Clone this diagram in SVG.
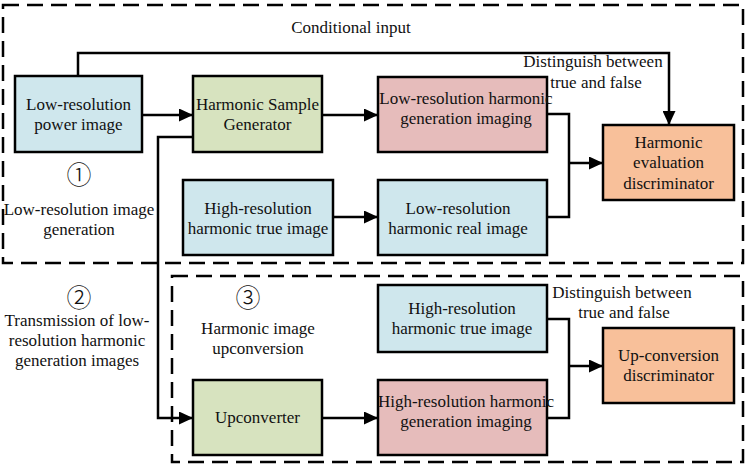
<svg xmlns="http://www.w3.org/2000/svg" width="750" height="468" viewBox="0 0 750 468">
<defs>
<marker id="ah" viewBox="0 0 14 13" refX="14" refY="6.5" markerWidth="14" markerHeight="13" markerUnits="userSpaceOnUse" orient="auto">
<path d="M0,0 L14,6.5 L0,13 Z" fill="#000"/>
</marker>
<style>
text{font-family:"Liberation Serif","Times New Roman",serif;font-size:17px;fill:#111;text-anchor:middle}
.c{font-family:"Noto Sans CJK SC","DejaVu Sans",sans-serif;font-size:25px;font-weight:300}
.n{stroke:#000;stroke-width:2.5}
.blue{fill:#cfe7ed}.green{fill:#d7e3bf}.pink{fill:#e6bcbb}.orange{fill:#f8c09a}
.dash{fill:none;stroke:#000;stroke-width:2.5;stroke-dasharray:16 8}
.w{fill:none;stroke:#000;stroke-width:2.5}
.a{marker-end:url(#ah)}
</style>
</defs>
<rect width="750" height="468" fill="#fff"/>
<g id="regions">
<rect class="dash" x="3" y="5" width="740" height="258"/>
<rect class="dash" x="172" y="276" width="571" height="186"/>
</g>
<g id="connectors">
<polyline class="w a" points="78,76 78,53 669,53 669,125"/>
<line class="w a" x1="142" y1="115" x2="193" y2="115"/>
<line class="w a" x1="322" y1="115" x2="378" y2="115"/>
<polyline class="w a" points="193,137 158,137 158,418 193,418"/>
<polyline class="w" points="547,114 569,114 569,217 547,217"/>
<line class="w a" x1="569" y1="163" x2="603" y2="163"/>
<line class="w a" x1="333" y1="217" x2="378" y2="217"/>
<polyline class="w" points="547,319 569,319 569,418 547,418"/>
<line class="w a" x1="569" y1="366" x2="603" y2="366"/>
<line class="w a" x1="322" y1="418" x2="378" y2="418"/>
</g>
<g id="lr-power">
<rect class="n blue" x="15" y="76" width="127" height="76"/>
<text x="78.5" y="110">Low-resolution</text>
<text x="78.5" y="130">power image</text>
</g>
<g id="hsg">
<rect class="n green" x="193" y="76" width="129" height="76"/>
<text x="257.5" y="110">Harmonic Sample</text>
<text x="257.5" y="130">Generator</text>
</g>
<g id="lr-gen">
<rect class="n pink" x="378" y="77" width="169" height="75"/>
<text x="466" y="104">Low-resolution harmonic</text>
<text x="466" y="124">generation imaging</text>
</g>
<g id="h-disc">
<rect class="n orange" x="603" y="125" width="131" height="75"/>
<text x="668.5" y="147.5">Harmonic</text>
<text x="668.5" y="168">evaluation</text>
<text x="668.5" y="188.5">discriminator</text>
</g>
<g id="hr-true-1">
<rect class="n blue" x="183" y="180" width="150" height="75"/>
<text x="258" y="214">High-resolution</text>
<text x="258" y="234">harmonic true image</text>
</g>
<g id="lr-real">
<rect class="n blue" x="378" y="180" width="169" height="75"/>
<text x="458" y="214">Low-resolution</text>
<text x="458" y="234">harmonic real image</text>
</g>
<g id="hr-true-2">
<rect class="n blue" x="378" y="285" width="169" height="67"/>
<text x="462" y="314">High-resolution</text>
<text x="462" y="334">harmonic true image</text>
</g>
<g id="up-disc">
<rect class="n orange" x="603" y="328" width="131" height="75"/>
<text x="668.5" y="361">Up-conversion</text>
<text x="668.5" y="381">discriminator</text>
</g>
<g id="upconverter">
<rect class="n green" x="193" y="380" width="129" height="75"/>
<text x="257.5" y="423">Upconverter</text>
</g>
<g id="hr-gen">
<rect class="n pink" x="378" y="380" width="169" height="75"/>
<text x="466" y="407">High-resolution harmonic</text>
<text x="466" y="427">generation imaging</text>
</g>
<g id="labels">
<text x="351" y="33">Conditional input</text>
<text x="593" y="67">Distinguish between</text>
<text x="596" y="88">true and false</text>
<text class="c" x="79" y="184">①</text>
<text x="79" y="215">Low-resolution image</text>
<text x="79" y="235">generation</text>
<text class="c" x="79" y="307">②</text>
<text x="77" y="326">Transmission of low-</text>
<text x="77" y="346">resolution harmonic</text>
<text x="77" y="366">generation images</text>
<text class="c" x="248" y="307">③</text>
<text x="258" y="334">Harmonic image</text>
<text x="258" y="354">upconversion</text>
<text x="622" y="298">Distinguish between</text>
<text x="624" y="318">true and false</text>
</g>
</svg>
